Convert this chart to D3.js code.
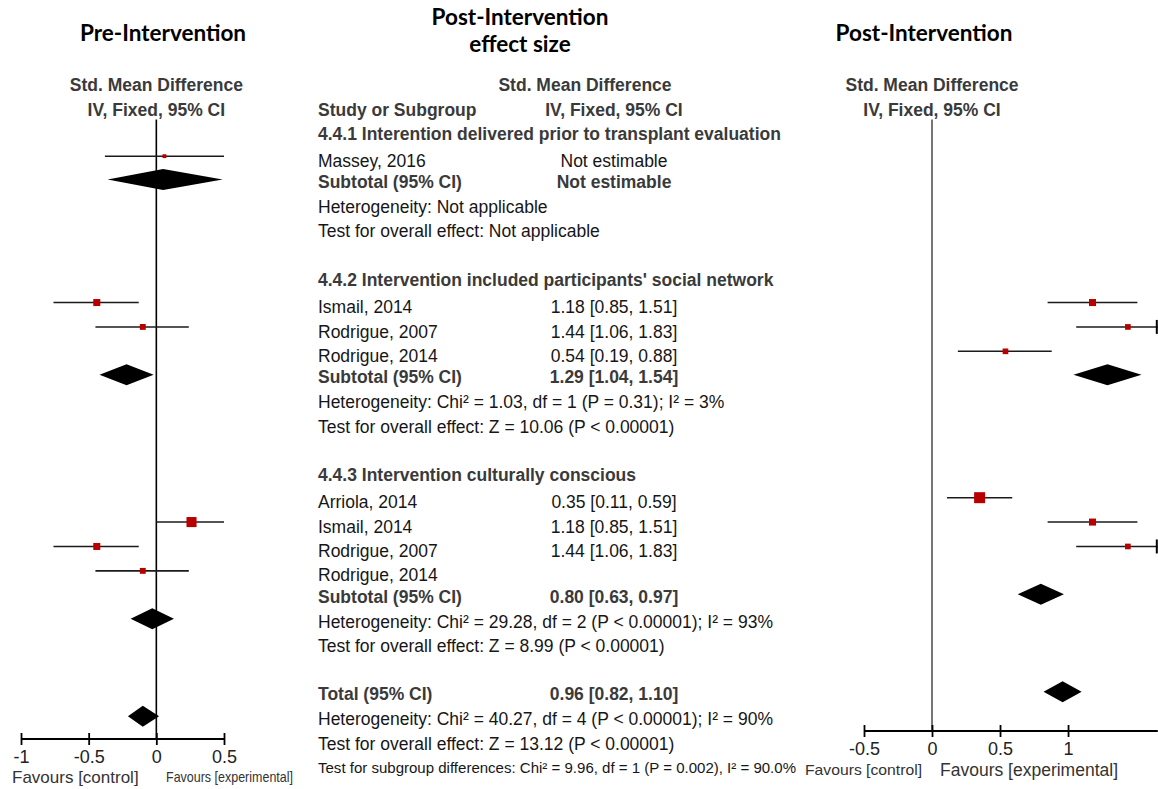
<!DOCTYPE html>
<html>
<head>
<meta charset="utf-8">
<script src="https://cdnjs.cloudflare.com/ajax/libs/d3/7.8.5/d3.min.js"></script>
<style>
  body { margin: 0; background: #fff; }
  svg { display: block; }
</style>
</head>
<body>
<svg id="chart" width="1158" height="789"></svg>
<script>
// ---------- data ----------
const preTitle = "Pre-Intervention";
const midTitle = ["Post-Intervention", "effect size"];
const postTitle = "Post-Intervention";
const measureHeader = ["Std. Mean Difference", "IV, Fixed, 95% CI"];
const studyHeader = "Study or Subgroup";

// Table rows, top to bottom (blank strings are spacer rows)
const rowLabels = [
  "4.4.1 Interention delivered prior to transplant evaluation",
  "Massey, 2016",
  "Subtotal (95% CI)",
  "Heterogeneity: Not applicable",
  "Test for overall effect: Not applicable",
  "",
  "4.4.2 Intervention included participants' social network",
  "Ismail, 2014",
  "Rodrigue, 2007",
  "Rodrigue, 2014",
  "Subtotal (95% CI)",
  "Heterogeneity: Chi² = 1.03, df = 1 (P = 0.31); I² = 3%",
  "Test for overall effect: Z = 10.06 (P < 0.00001)",
  "",
  "4.4.3 Intervention culturally conscious",
  "Arriola, 2014",
  "Ismail, 2014",
  "Rodrigue, 2007",
  "Rodrigue, 2014",
  "Subtotal (95% CI)",
  "Heterogeneity: Chi² = 29.28, df = 2 (P < 0.00001); I² = 93%",
  "Test for overall effect: Z = 8.99 (P < 0.00001)",
  "",
  "Total (95% CI)",
  "Heterogeneity: Chi² = 40.27, df = 4 (P < 0.00001); I² = 90%",
  "Test for overall effect: Z = 13.12 (P < 0.00001)",
  "Test for subgroup differences: Chi² = 9.96, df = 1 (P = 0.002), I² = 90.0%"
];
const rowKinds = [
  "group", "study", "subtotal", "stat", "stat", "blank",
  "group", "study", "study", "study", "subtotal", "stat", "stat", "blank",
  "group", "study", "study", "study", "study", "subtotal", "stat", "stat", "blank",
  "subtotal", "stat", "stat", "note"
];
// rows whose estimate cannot be computed
const notEstimableRows = [1, 2];

// Post-intervention study estimates: SMD with 95% CI, weight (%)
const postStudies = [
  { row: 7,  smd: 1.18, lo: 0.85, hi: 1.51, w: 20 },
  { row: 8,  smd: 1.44, lo: 1.06, hi: 1.83, w: 13 },
  { row: 9,  smd: 0.54, lo: 0.19, hi: 0.88, w: 13 },
  { row: 15, smd: 0.35, lo: 0.11, hi: 0.59, w: 49 },
  { row: 16, smd: 1.18, lo: 0.85, hi: 1.51, w: 20 },
  { row: 17, smd: 1.44, lo: 1.06, hi: 1.83, w: 13 }
];
// Post-intervention pooled estimates
const postPooled = [
  { row: 10, smd: 1.29, lo: 1.04, hi: 1.54 },
  { row: 19, smd: 0.80, lo: 0.63, hi: 0.97 },
  { row: 23, smd: 0.96, lo: 0.82, hi: 1.10 }
];

// Pre-intervention study estimates
const preStudies = [
  { row: 1,  smd: 0.06,  lo: -0.38, hi: 0.50,  w: 6 },
  { row: 7,  smd: -0.44, lo: -0.76, hi: -0.13, w: 20 },
  { row: 8,  smd: -0.10, lo: -0.45, hi: 0.24,  w: 14 },
  { row: 16, smd: 0.26,  lo: 0.00,  hi: 0.50,  w: 41 },
  { row: 17, smd: -0.44, lo: -0.76, hi: -0.13, w: 20 },
  { row: 18, smd: -0.10, lo: -0.45, hi: 0.24,  w: 14 }
];
// Pre-intervention pooled estimates
const prePooled = [
  { row: 2,  smd: 0.05,  lo: -0.36, hi: 0.49 },
  { row: 10, smd: -0.22, lo: -0.42, hi: -0.02 },
  { row: 20, smd: -0.03, lo: -0.19, hi: 0.13 },
  { row: 24, smd: -0.10, lo: -0.21, hi: 0.02 }
];

const preTicks = [-1, -0.5, 0, 0.5];
const postTicks = [-0.5, 0, 0.5, 1];
const favours = ["Favours [control]", "Favours [experimental]"];

// ---------- layout ----------
const svg = d3.select("#chart");
const SANS = "'Liberation Sans', Arial, Helvetica, sans-serif";
const TITLE_FONT = "Lato, 'Open Sans', sans-serif";
const INK = "#161616", HEAD = "#3a3a3a", RED = "#b80000";

// one slot per text line; slots 0-1 are the column headers
const slotY = d3.scaleLinear().domain([0, 28]).range([85, 768]);
const rowY = r => slotY(r + 2);
// study lines sit a little lower than the other lines in the table
const kindShift = { study: 2.5, group: 0, subtotal: -0.5, stat: 0, note: 0 };

const xPre = d3.scaleLinear().domain([-1, 0.5]).range([21, 224]);
const xPost = d3.scaleLinear().domain([-0.5, 1.66]).range([864, 1157.8]);
const sqSide = d3.scaleSqrt().domain([0, 49]).range([0, 11]);
const fmt = d3.format(".2f");
const ciText = d => `${fmt(d.smd)} [${fmt(d.lo)}, ${fmt(d.hi)}]`;

// ---------- titles ----------
function title(text, x, y) {
  svg.append("text").attr("x", x).attr("y", y).attr("dy", "0.35em")
    .attr("text-anchor", "middle").attr("font-family", TITLE_FONT)
    .attr("font-weight", 700).attr("font-size", 22.5).attr("fill", "#000").text(text);
}
title(preTitle, 163, 33);
midTitle.forEach((t, i) => title(t, 520, 17 + i * 27));
title(postTitle, 924, 33);

// ---------- forest panel ----------
function forestPanel(x, studies, pooled, ticks, axisY, zeroColor, favourStyle) {
  const g = svg.append("g");
  const x0 = x(0);

  // column header centred on the line of no effect
  measureHeader.forEach((t, i) => {
    g.append("text").attr("x", x0).attr("y", slotY(i)).attr("dy", "0.35em")
      .attr("text-anchor", "middle").attr("font-family", SANS)
      .attr("font-weight", 700).attr("font-size", 17.5).attr("fill", HEAD).text(t);
  });

  // line of no effect
  g.append("line").attr("x1", x0).attr("x2", x0)
    .attr("y1", slotY(1) + 10).attr("y2", axisY)
    .attr("stroke", zeroColor).attr("stroke-width", 1.6);

  // confidence intervals
  const [dMin, dMax] = x.domain();
  g.selectAll("line.ci").data(studies).join("line").attr("class", "ci")
    .attr("x1", d => x(Math.max(d.lo, dMin))).attr("x2", d => x(Math.min(d.hi, dMax)))
    .attr("y1", d => rowY(d.row) - 2).attr("y2", d => rowY(d.row) - 2)
    .attr("stroke", "#1b1b1b").attr("stroke-width", 1.6);
  // end cap where an interval runs past the axis
  g.selectAll("line.cap").data(studies.filter(d => d.hi > dMax)).join("line").attr("class", "cap")
    .attr("x1", x(dMax) - 1).attr("x2", x(dMax) - 1)
    .attr("y1", d => rowY(d.row) - 9).attr("y2", d => rowY(d.row) + 5)
    .attr("stroke", "#000").attr("stroke-width", 2);

  // study squares sized by weight
  g.selectAll("rect.est").data(studies).join("rect").attr("class", "est")
    .attr("x", d => x(d.smd) - sqSide(d.w) / 2)
    .attr("y", d => rowY(d.row) - 2 - sqSide(d.w) / 2)
    .attr("width", d => sqSide(d.w)).attr("height", d => sqSide(d.w))
    .attr("fill", RED);

  // pooled diamonds
  g.selectAll("path.pool").data(pooled).join("path").attr("class", "pool")
    .attr("d", d => {
      const y = rowY(d.row) - 3;
      return `M${x(d.lo)},${y}L${x(d.smd)},${y - 10.5}L${x(d.hi)},${y}L${x(d.smd)},${y + 10.5}Z`;
    })
    .attr("fill", "#000");

  // axis
  const axis = d3.axisBottom(x).tickValues(ticks).tickFormat(d => String(d))
    .tickSizeOuter(0).tickSizeInner(6);
  const ax = g.append("g").attr("transform", `translate(0,${axisY})`).call(axis);
  ax.select(".domain").attr("stroke", "#000").attr("stroke-width", 1.8)
    .attr("d", `M${x.range()[0]},0H${x.range()[1]}`);
  ax.selectAll(".tick line").attr("y1", -6).attr("y2", 6).attr("stroke", "#000").attr("stroke-width", 1.8);
  ax.selectAll(".tick text").attr("y", 18).attr("dy", "0.35em")
    .attr("font-family", SANS).attr("font-size", 18).attr("fill", "#222");

  // favours labels
  favourStyle.forEach((s, i) => {
    const t = g.append("text").attr("x", s.x).attr("y", s.y).attr("dy", "0.35em")
      .attr("font-family", SANS).attr("font-size", s.size).attr("fill", "#333").text(favours[i]);
    if (s.len) t.attr("textLength", s.len).attr("lengthAdjust", "spacingAndGlyphs");
  });
}

forestPanel(xPre, preStudies, prePooled, preTicks, 739, "#000", [
  { x: 12, y: 777, size: 17 },
  { x: 166, y: 777, size: 15, len: 127 }
]);
forestPanel(xPost, postStudies, postPooled, postTicks, 731, "#555", [
  { x: 805, y: 770, size: 15, len: 117 },
  { x: 940, y: 770, size: 17.5 }
]);

// ---------- study table ----------
const tbl = svg.append("g");
const LABEL_X = 318, VALUE_X = 614;

tbl.append("text").attr("x", 585).attr("y", slotY(0)).attr("dy", "0.35em")
  .attr("text-anchor", "middle").attr("font-family", SANS).attr("font-weight", 700)
  .attr("font-size", 17.5).attr("fill", HEAD).text(measureHeader[0]);
tbl.append("text").attr("x", LABEL_X).attr("y", slotY(1)).attr("dy", "0.35em")
  .attr("font-family", SANS).attr("font-weight", 700)
  .attr("font-size", 17.5).attr("fill", HEAD).text(studyHeader);
tbl.append("text").attr("x", VALUE_X).attr("y", slotY(1)).attr("dy", "0.35em")
  .attr("text-anchor", "middle").attr("font-family", SANS).attr("font-weight", 700)
  .attr("font-size", 17.5).attr("fill", HEAD).text(measureHeader[1]);

const rows = rowLabels.map((label, i) => ({ label, kind: rowKinds[i], row: i }));
const textY = r => rowY(r) + kindShift[rowKinds[r]];

tbl.selectAll("text.row").data(rows.filter(d => d.kind !== "blank")).join("text")
  .attr("class", "row")
  .attr("x", LABEL_X).attr("y", d => textY(d.row)).attr("dy", "0.35em")
  .attr("font-family", SANS)
  .attr("font-weight", d => (d.kind === "group" || d.kind === "subtotal") ? 700 : 400)
  .attr("font-size", d => d.kind === "note" ? 14 : 17.5)
  .attr("fill", d => (d.kind === "group" || d.kind === "subtotal") ? HEAD : INK)
  .each(function (d) {
    if (d.kind === "note") d3.select(this).attr("textLength", 478).attr("lengthAdjust", "spacingAndGlyphs");
  })
  .text(d => d.label);

// effect estimates as text
const valueRows = [
  ...postStudies.map(d => ({ row: d.row, text: ciText(d), bold: false })),
  ...postPooled.map(d => ({ row: d.row, text: ciText(d), bold: true })),
  ...notEstimableRows.map(r => ({ row: r, text: "Not estimable", bold: rowKinds[r] === "subtotal" }))
];
tbl.selectAll("text.val").data(valueRows).join("text").attr("class", "val")
  .attr("x", VALUE_X).attr("y", d => textY(d.row)).attr("dy", "0.35em")
  .attr("text-anchor", "middle").attr("font-family", SANS)
  .attr("font-weight", d => d.bold ? 700 : 400).attr("font-size", 17.5)
  .attr("fill", d => d.bold ? HEAD : INK).text(d => d.text);
</script>
</body>
</html>
